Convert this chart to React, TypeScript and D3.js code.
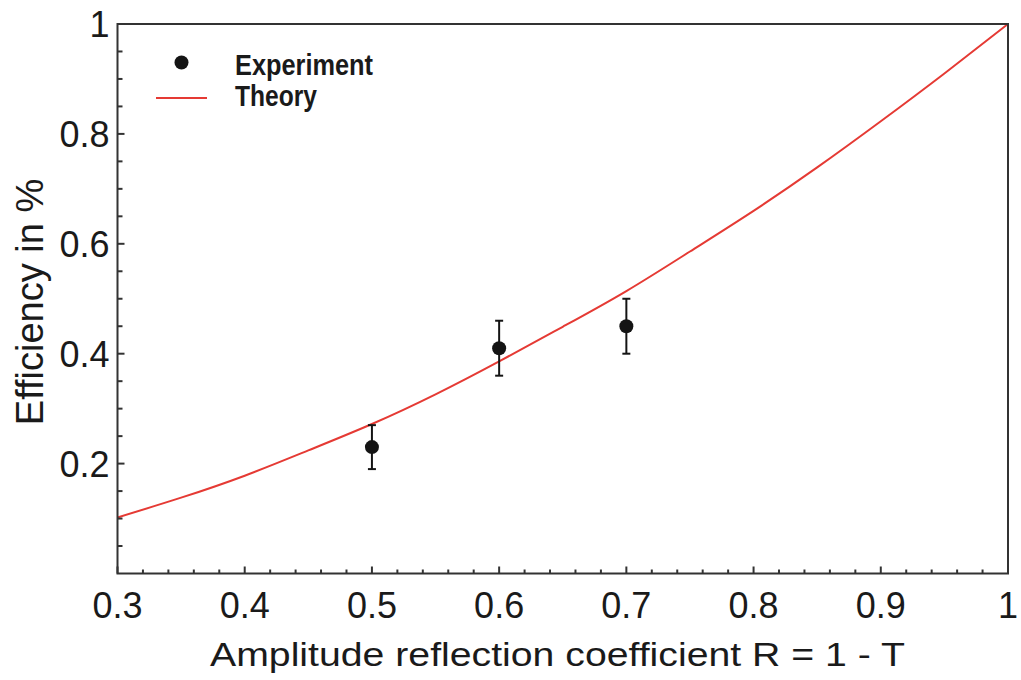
import React from "react";
import * as d3 from "d3";

const theoryX = [0.3, 0.35, 0.4, 0.45, 0.5, 0.55, 0.6, 0.65, 0.7, 0.75, 0.8, 0.85, 0.9, 0.95, 1.0];
const theoryY = [0.102, 0.138, 0.178, 0.224, 0.272, 0.326, 0.386, 0.449, 0.514, 0.586, 0.66, 0.739, 0.823, 0.91, 1.0];

const expX = [0.5, 0.6, 0.7];
const expY = [0.23, 0.41, 0.45];
const expErr = [0.04, 0.05, 0.05];

const xTicks = [0.3, 0.4, 0.5, 0.6, 0.7, 0.8, 0.9, 1];
const yTicks = [0.2, 0.4, 0.6, 0.8, 1];
const xTickLabels = ["0.3", "0.4", "0.5", "0.6", "0.7", "0.8", "0.9", "1"];
const yTickLabels = ["0.2", "0.4", "0.6", "0.8", "1"];

const xTitle = "Amplitude  reflection coefficient  R = 1 - T";
const yTitle = "Efficiency in %";
const legendLabels = ["Experiment", "Theory"];

const W = 1021;
const H = 680;
const L = 117.5, R = 1008, T = 24, B = 573.5;

export default function App() {
  const x = d3.scaleLinear().domain([0.3, 1]).range([L, R]);
  const y = d3.scaleLinear().domain([0, 1]).range([B, T]);

  const xMinor = d3.range(0.3, 1.0001, 0.02).filter((v) => !xTicks.some((t) => Math.abs(t - v) < 1e-6));
  const yMinor = d3.range(0.05, 1.0001, 0.05).filter((v) => !yTicks.some((t) => Math.abs(t - v) < 1e-6));

  const line = d3
    .line<number>()
    .x((_, i) => x(theoryX[i]))
    .y((d) => y(d))
    .curve(d3.curveNatural);

  const font = "'Liberation Sans', Arial, sans-serif";
  const axisColor = "#333";
  const red = "#e53a34";
  const dark = "#141414";

  return (
    <svg width={W} height={H} style={{ position: "absolute", left: 0, top: 0, background: "#fff" }}>
      <rect x={0} y={0} width={W} height={H} fill="#fff" />
      {/* theory curve */}
      <path d={line(theoryY) || ""} fill="none" stroke={red} strokeWidth={2} />
      {/* experiment */}
      {expX.map((v, i) => {
        const cx = x(v);
        const top = y(expY[i] + expErr[i]);
        const bot = y(expY[i] - expErr[i]);
        return (
          <g key={i}>
            <line x1={cx} x2={cx} y1={top} y2={bot} stroke={dark} strokeWidth={2} />
            <line x1={cx - 4} x2={cx + 4} y1={top} y2={top} stroke={dark} strokeWidth={2} />
            <line x1={cx - 4} x2={cx + 4} y1={bot} y2={bot} stroke={dark} strokeWidth={2} />
            <circle cx={cx} cy={y(expY[i])} r={7} fill={dark} />
          </g>
        );
      })}
      {/* frame */}
      <rect x={L} y={T} width={R - L} height={B - T} fill="none" stroke={axisColor} strokeWidth={2} />
      {/* x ticks */}
      {xTicks.map((t) => (
        <line key={"xM" + t} x1={x(t)} x2={x(t)} y1={B} y2={B - 7} stroke={axisColor} strokeWidth={2} />
      ))}
      {xMinor.map((t) => (
        <line key={"xm" + t} x1={x(t)} x2={x(t)} y1={B} y2={B - 4} stroke={axisColor} strokeWidth={2} />
      ))}
      {yTicks.map((t) => (
        <line key={"yM" + t} x1={L} x2={L + 7} y1={y(t)} y2={y(t)} stroke={axisColor} strokeWidth={2} />
      ))}
      {yMinor.map((t) => (
        <line key={"ym" + t} x1={L} x2={L + 5} y1={y(t)} y2={y(t)} stroke={axisColor} strokeWidth={2} />
      ))}
      {/* tick labels */}
      {xTicks.map((t, i) => (
        <text key={"xl" + t} x={x(t)} y={B + 44} textAnchor="middle" fontFamily={font} fontSize={36} fill="#1a1a1a">
          {xTickLabels[i]}
        </text>
      ))}
      {yTicks.map((t, i) => (
        <text key={"yl" + t} x={L - 8} y={y(t) + 13} textAnchor="end" fontFamily={font} fontSize={36} fill="#1a1a1a">
          {yTickLabels[i]}
        </text>
      ))}
      {/* axis titles */}
      <text x={210} y={666} fontFamily={font} fontSize={33} fill="#1a1a1a" textLength={695} lengthAdjust="spacingAndGlyphs">
        {xTitle}
      </text>
      <text
        transform={`translate(43,${302}) rotate(-90)`}
        textAnchor="middle"
        fontFamily={font}
        fontSize={38}
        fill="#1a1a1a"
      >
        {yTitle}
      </text>
      {/* legend */}
      <circle cx={181.5} cy={62.5} r={7} fill={dark} />
      <line x1={156} x2={207} y1={98} y2={98} stroke={red} strokeWidth={2} />
      <text x={235} y={75} fontFamily="'Liberation Sans Narrow', 'Liberation Sans', Arial, sans-serif" fontWeight="bold" fontSize={29} fill="#1a1a1a" textLength={138} lengthAdjust="spacingAndGlyphs">
        {legendLabels[0]}
      </text>
      <text x={235} y={106} fontFamily="'Liberation Sans Narrow', 'Liberation Sans', Arial, sans-serif" fontWeight="bold" fontSize={29} fill="#1a1a1a" textLength={82} lengthAdjust="spacingAndGlyphs">
        {legendLabels[1]}
      </text>
    </svg>
  );
}
